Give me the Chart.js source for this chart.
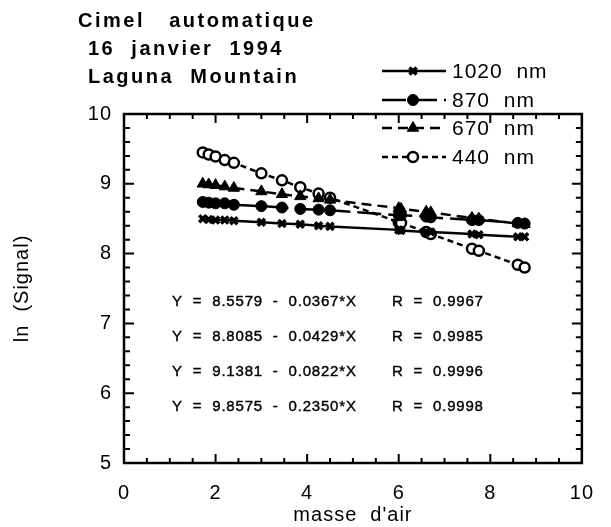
<!DOCTYPE html>
<html>
<head>
<meta charset="utf-8">
<script src="https://cdn.jsdelivr.net/npm/chart.js@4.4.1/dist/chart.umd.min.js"></script>
<style>
  html, body { margin: 0; padding: 0; background: #fff; }
  #wrap { width: 611px; height: 527px; }
</style>
</head>
<body>
<div id="wrap"><canvas id="airChart" width="611" height="527"></canvas></div>
<script>
// air mass of each measurement
var masses = [1.72, 1.85, 2.0, 2.2, 2.4, 3.0, 3.45, 3.85, 4.25, 4.5, 6.0, 6.05, 6.6, 6.7, 7.6, 7.75, 8.6, 8.75];

// ln(signal) per channel
var sig1020 = [8.50, 8.49, 8.48, 8.48, 8.47, 8.45, 8.43, 8.42, 8.40, 8.39, 8.34, 8.33, 8.31, 8.31, 8.28, 8.27, 8.24, 8.24];
var sig870  = [8.74, 8.73, 8.72, 8.72, 8.70, 8.68, 8.66, 8.64, 8.63, 8.62, 8.55, 8.55, 8.53, 8.52, 8.48, 8.48, 8.44, 8.43];
var sig670  = [9.00, 8.99, 8.98, 8.96, 8.94, 8.89, 8.85, 8.82, 8.79, 8.77, 8.65, 8.64, 8.60, 8.59, 8.51, 8.50, 8.43, 8.42];
var sig440  = [9.45, 9.42, 9.39, 9.34, 9.30, 9.15, 9.05, 8.95, 8.86, 8.80, 8.45, 8.44, 8.31, 8.28, 8.07, 8.04, 7.84, 7.80];

var channels = ["1020  nm", "870  nm", "670  nm", "440  nm"];

// regression Y = a - b*X, with R
var fitA = [8.5579, 8.8085, 9.1381, 9.8575];
var fitB = [0.0367, 0.0429, 0.0822, 0.2350];
var fitR = [0.9967, 0.9985, 0.9996, 0.9998];

var titleLines = ["Cimel   automatique", "16  janvier  1994", "Laguna  Mountain"];
var xTickLabels = ["0", "2", "4", "6", "8", "10"];

var FONT = '"Liberation Sans", Arial, sans-serif';

function pts(ys) {
  var out = [];
  for (var i = 0; i < masses.length; i++) {
    out.push({ x: masses[i], y: ys[i] });
  }
  return out;
}

var datasets = [
  { label: channels[0], data: pts(sig1020), borderDash: [], pointStyle: 'crossRot', pointRadius: 5, pointBorderWidth: 3.5, pointBackgroundColor: '#000' },
  { label: channels[1], data: pts(sig870), borderDash: [24, 7], pointStyle: 'circle', pointRadius: 5.5, pointBorderWidth: 1, pointBackgroundColor: '#000' },
  { label: channels[2], data: pts(sig670), borderDash: [10, 6], pointStyle: 'triangle', pointRadius: 6.5, pointBorderWidth: 1, pointBackgroundColor: '#000' },
  { label: channels[3], data: pts(sig440), borderDash: [6, 4], pointStyle: 'circle', pointRadius: 5, pointBorderWidth: 2.5, pointBackgroundColor: '#fff' }
];
datasets.forEach(function(d) {
  d.showLine = true;
  d.borderColor = '#000';
  d.borderWidth = 2.5;
  d.pointBorderColor = '#000';
});

// frame with inward ticks, title block, legend and fit results
var framePlugin = {
  id: 'frame',
  beforeDraw: function(chart) {
    chart.ctx.letterSpacing = '1px';
  },
  afterDatasetsDraw: function(chart) {
    var ctx = chart.ctx, a = chart.chartArea;
    var xs = chart.scales.x, ys = chart.scales.y;
    ctx.save();
    ctx.strokeStyle = '#000';
    ctx.lineWidth = 2;
    var v, p, len;
    for (v = 0; v <= 10.001; v += 0.5) {
      p = xs.getPixelForValue(v);
      len = (Math.abs(v / 2 - Math.round(v / 2)) < 0.01) ? 9 : 5;
      ctx.beginPath();
      ctx.moveTo(p, a.bottom); ctx.lineTo(p, a.bottom - len);
      ctx.moveTo(p, a.top); ctx.lineTo(p, a.top + len);
      ctx.stroke();
    }
    for (v = 5; v <= 10.001; v += 0.2) {
      p = ys.getPixelForValue(v);
      len = (Math.abs(v - Math.round(v)) < 0.01) ? 10 : 6;
      ctx.beginPath();
      ctx.moveTo(a.left, p); ctx.lineTo(a.left + len, p);
      ctx.moveTo(a.right, p); ctx.lineTo(a.right - len, p);
      ctx.stroke();
    }
    ctx.lineWidth = 2.5;
    ctx.strokeRect(a.left, a.top, a.right - a.left, a.bottom - a.top);
    ctx.restore();
  },
  afterDraw: function(chart) {
    var ctx = chart.ctx;
    ctx.save();
    ctx.fillStyle = '#000';
    ctx.strokeStyle = '#000';
    ctx.textBaseline = 'middle';

    ctx.font = 'bold 20px ' + FONT;
    ctx.letterSpacing = '2.5px';
    ctx.fillText(titleLines[0], 78, 21);
    ctx.fillText(titleLines[1], 88, 49);
    ctx.fillText(titleLines[2], 88, 77);

    // legend
    ctx.letterSpacing = '1px';
    ctx.font = '21px ' + FONT;
    var rows = [71, 100, 128, 157];
    for (var i = 0; i < datasets.length; i++) {
      var d = datasets[i], y = rows[i];
      ctx.save();
      ctx.lineWidth = 2.5;
      ctx.setLineDash(d.borderDash);
      ctx.beginPath();
      ctx.moveTo(382, y); ctx.lineTo(446, y);
      ctx.stroke();
      ctx.setLineDash([]);
      ctx.fillStyle = d.pointBackgroundColor;
      ctx.lineWidth = d.pointBorderWidth;
      Chart.helpers.drawPoint(ctx, { pointStyle: d.pointStyle, radius: d.pointRadius, rotation: 0, borderWidth: d.pointBorderWidth }, 413, y);
      ctx.restore();
      ctx.fillText(d.label, 452, y + 1);
    }

    // fit results, slightly heavier strokes
    ctx.font = '15px ' + FONT;
    ctx.letterSpacing = '0.8px';
    ctx.lineWidth = 0.4;
    var eqRows = [302, 337, 372, 407];
    for (var k = 0; k < fitA.length; k++) {
      var eq = 'Y  =  ' + fitA[k].toFixed(4) + '  -  ' + fitB[k].toFixed(4) + '*X';
      var rr = 'R  =  ' + fitR[k].toFixed(4);
      ctx.fillText(eq, 172, eqRows[k]);
      ctx.strokeText(eq, 172, eqRows[k]);
      ctx.fillText(rr, 392, eqRows[k]);
      ctx.strokeText(rr, 392, eqRows[k]);
    }
    ctx.restore();
  }
};

var ctx = document.getElementById("airChart").getContext("2d");
new Chart(ctx, {
  type: 'scatter',
  data: { datasets: datasets },
  options: {
    responsive: false,
    animation: false,
    layout: { padding: { top: 114, right: 19, left: 0, bottom: 0 } },
    plugins: { legend: { display: false }, tooltip: { enabled: false } },
    scales: {
      x: {
        type: 'linear', min: 0, max: 10,
        afterFit: function(s) { s.height = 64; },
        grid: { display: false, drawTicks: false },
        border: { display: false },
        ticks: {
          stepSize: 2, padding: 18, color: '#000', maxRotation: 0,
          font: { size: 20, family: FONT },
          callback: function(v) { return xTickLabels[v / 2]; }
        },
        title: {
          display: true, text: "masse  d'air", color: '#000',
          font: { size: 20, family: FONT },
          padding: { top: 0, bottom: 0 }
        }
      },
      y: {
        type: 'linear', min: 5, max: 10,
        afterFit: function(s) { s.width = 124; },
        grid: { display: false, drawTicks: false },
        border: { display: false },
        ticks: {
          stepSize: 1, padding: 12, color: '#000',
          font: { size: 20, family: FONT }
        },
        title: {
          display: true, text: 'ln  (Signal)', color: '#000',
          font: { size: 20, family: FONT },
          padding: { top: 10, bottom: 0 }
        }
      }
    }
  },
  plugins: [framePlugin]
});
</script>
</body>
</html>
